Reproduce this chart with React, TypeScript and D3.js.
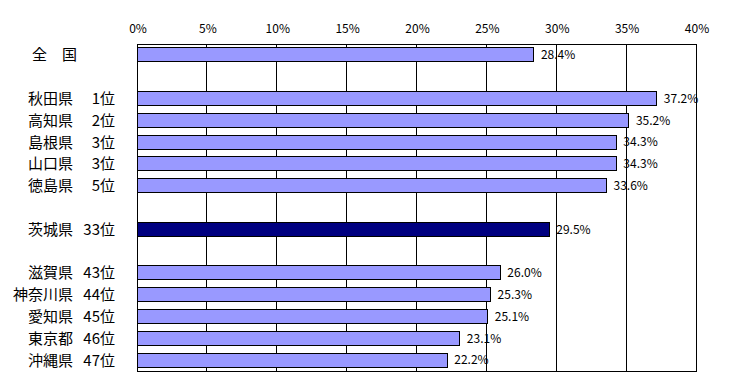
import React, { useEffect, useRef } from 'react';
import * as d3 from 'd3';

// 空行は "" で表す
const names = ['全　国', '', '秋田県', '高知県', '島根県', '山口県', '徳島県', '', '茨城県', '', '滋賀県', '神奈川県', '愛知県', '東京都', '沖縄県'];
const ranks = ['', '', '1位', '2位', '3位', '3位', '5位', '', '33位', '', '43位', '44位', '45位', '46位', '47位'];
const values: (number | null)[] = [28.4, null, 37.2, 35.2, 34.3, 34.3, 33.6, null, 29.5, null, 26.0, 25.3, 25.1, 23.1, 22.2];
const highlight = '茨城県';
const ticks = [0, 5, 10, 15, 20, 25, 30, 35, 40];

const App = () => {
    const svgRef = useRef<SVGSVGElement>(null);

    useEffect(() => {
        const svg = d3.select(svgRef.current);
        svg.selectAll('*').remove();
        const left = 137, right = 696, top = 44, bottom = 371;
        const font = '"Noto Sans CJK JP", sans-serif';

        const x = d3.scaleLinear().domain([0, 40]).range([left, right]);
        const y = d3.scaleBand<number>()
            .domain(d3.range(names.length))
            .range([top, bottom])
            .paddingInner(0.36)
            .paddingOuter(0.18);

        // grid
        svg.append('g')
            .selectAll('line')
            .data(ticks.slice(1, -1))
            .enter()
            .append('line')
            .attr('x1', d => x(d)).attr('x2', d => x(d))
            .attr('y1', top).attr('y2', bottom)
            .attr('stroke', '#000').attr('stroke-width', 1)
            .attr('shape-rendering', 'crispEdges');

        svg.append('rect')
            .attr('x', left).attr('y', top)
            .attr('width', right - left).attr('height', bottom - top)
            .attr('fill', 'none').attr('stroke', '#000')
            .attr('shape-rendering', 'crispEdges');

        // tick labels
        svg.append('g')
            .selectAll('text')
            .data(ticks)
            .enter()
            .append('text')
            .attr('x', d => x(d) + 1)
            .attr('y', 33)
            .attr('text-anchor', 'middle')
            .attr('font-family', font)
            .attr('font-size', 12)
            .text(d => `${d}%`);

        const rows = d3.range(names.length).filter(i => values[i] !== null);

        svg.append('g')
            .selectAll('rect')
            .data(rows)
            .enter()
            .append('rect')
            .attr('x', left)
            .attr('y', i => y(i)!)
            .attr('width', i => x(values[i]!) - left)
            .attr('height', y.bandwidth())
            .attr('fill', i => names[i] === highlight ? '#000080' : '#9999ff')
            .attr('stroke', '#000')
            .attr('stroke-width', 1)
            .attr('shape-rendering', 'crispEdges');

        svg.append('g')
            .selectAll('text')
            .data(rows)
            .enter()
            .append('text')
            .attr('x', i => x(values[i]!) + 7)
            .attr('y', i => y(i)! + y.bandwidth() / 2)
            .attr('dy', '0.35em')
            .attr('font-family', font)
            .attr('font-size', 12)
            .text(i => `${values[i]!.toFixed(1)}%`);

        // category labels
        svg.append('g')
            .selectAll('text')
            .data(rows)
            .enter()
            .append('text')
            .attr('x', i => names[i] === '全　国' ? 77 : 73)
            .attr('y', i => y(i)! + y.bandwidth() / 2)
            .attr('dy', '0.36em')
            .attr('text-anchor', 'end')
            .attr('font-family', font)
            .attr('font-size', 15)
            .text(i => names[i]);

        svg.append('g')
            .selectAll('text')
            .data(rows)
            .enter()
            .append('text')
            .attr('x', 115)
            .attr('y', i => y(i)! + y.bandwidth() / 2)
            .attr('dy', '0.36em')
            .attr('text-anchor', 'end')
            .attr('font-family', font)
            .attr('font-size', 15)
            .text(i => ranks[i]);
    }, []);

    return (
        <svg ref={svgRef} width="745" height="389" style={{ position: 'absolute', left: 0, top: 0, background: '#fff' }}></svg>
    );
};

export default App;
